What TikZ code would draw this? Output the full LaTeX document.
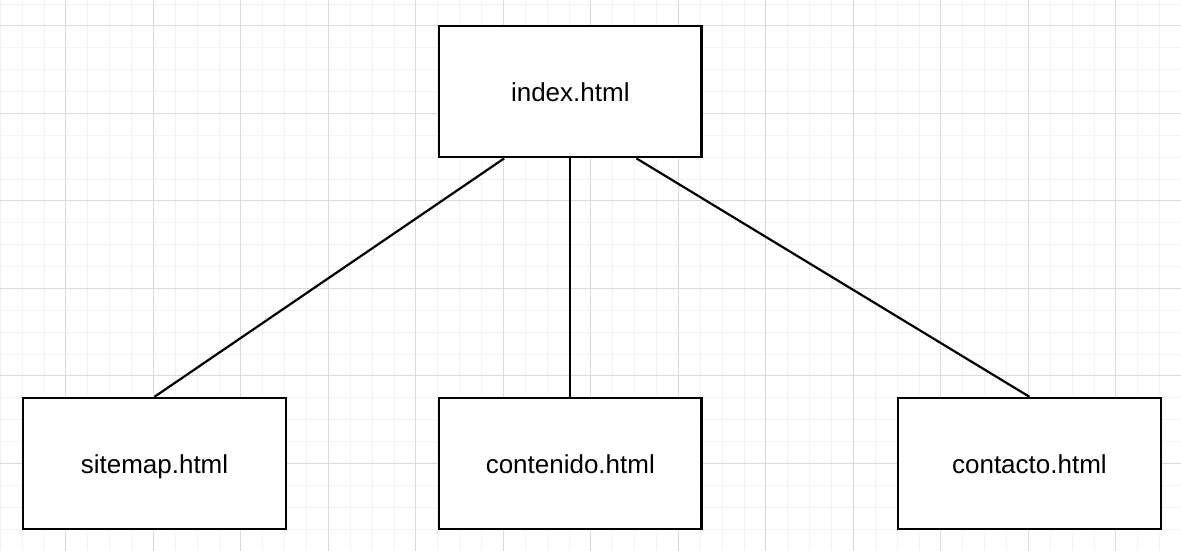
\documentclass[tikz,border=0pt]{standalone}
\usepackage{fontspec}
\setmainfont{Liberation Sans}
\usetikzlibrary{calc}
\definecolor{minorgrid}{HTML}{F3F3F3}
\definecolor{majorgrid}{HTML}{DADADA}
\begin{document}
\begin{tikzpicture}[x=1pt,y=-1pt,
  pagebox/.style={draw=black,line width=2.2pt,fill=white,minimum width=262.5pt,minimum height=131.25pt,inner sep=0pt,
    text height=19pt,text depth=0pt,font=\fontsize{26}{31}\selectfont},
  conn/.style={draw=black,line width=2.2pt}]
\useasboundingbox (0,0) rectangle (1181,551);
\fill[white] (0,0) rectangle (1181,551);
% minor grid
\foreach \k in {0,...,53} \draw[minorgrid,line width=1pt] ({0.3+21.875*\k},0) -- ({0.3+21.875*\k},551);
\foreach \j in {0,...,24} \draw[minorgrid,line width=1pt] (0,{4.1+21.875*\j}) -- (1181,{4.1+21.875*\j});
% major grid
\foreach \m in {0,...,12} \draw[majorgrid,line width=1pt] ({0.3+21.875*(3+4*\m)},0) -- ({0.3+21.875*(3+4*\m)},551);
\foreach \m in {0,...,5} \draw[majorgrid,line width=1pt] (0,{4.1+21.875*(1+4*\m)}) -- (1181,{4.1+21.875*(1+4*\m)});
% nodes
\node[pagebox] (index) at (570.3,91.7) {index.html};
\node[pagebox] (sitemap) at (154.5,463.5) {sitemap.html};
\node[pagebox] (contenido) at (570.3,463.5) {contenido.html};
\node[pagebox] (contacto) at (1029.4,463.5) {contacto.html};
% connectors
\draw[conn] ($(index.south west)!0.25!(index.south east)$) -- (sitemap.north);
\draw[conn] (index.south) -- (contenido.north);
\draw[conn] ($(index.south west)!0.75!(index.south east)$) -- (contacto.north);
\end{tikzpicture}
\end{document}
